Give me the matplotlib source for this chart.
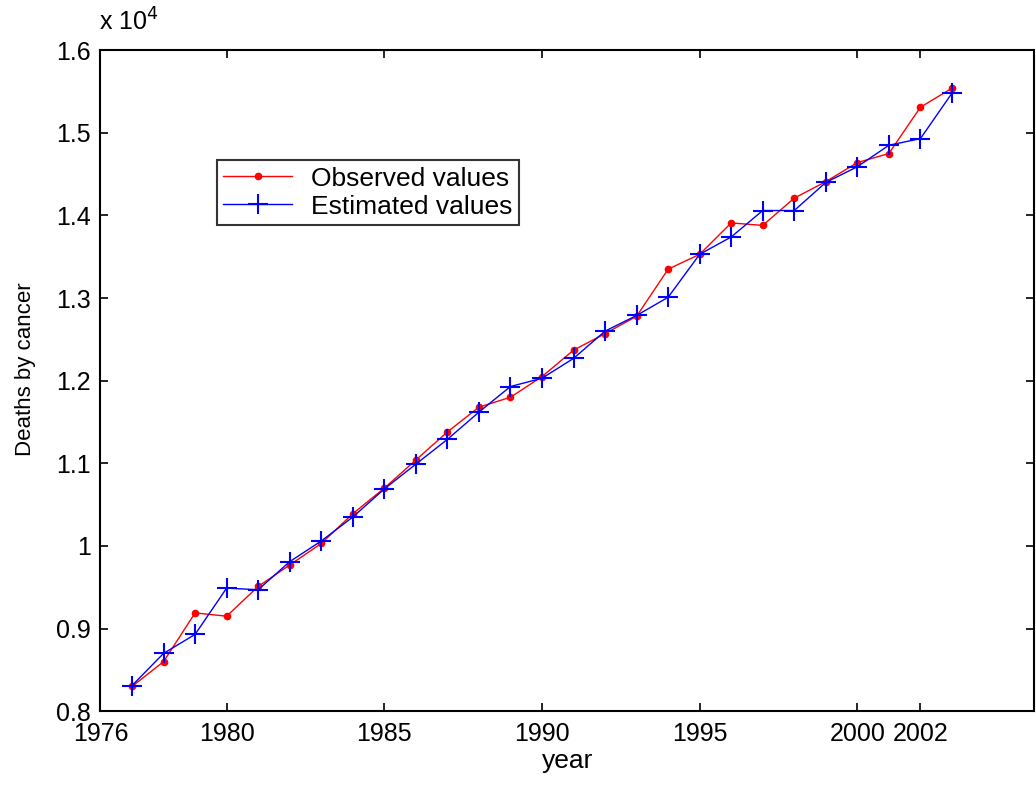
import matplotlib
matplotlib.use('Agg')
import matplotlib.pyplot as plt
from matplotlib.ticker import FuncFormatter

plt.rcParams['font.family'] = ['Liberation Sans', 'DejaVu Sans']

years = list(range(1977, 2004))

# deaths by cancer, observed vs model estimate
observed = [8300, 8600, 9190, 9150, 9510, 9770, 10030, 10390, 10700,
            11040, 11380, 11680, 11800, 12050, 12370, 12570, 12780,
            13350, 13530, 13910, 13880, 14210, 14410, 14640, 14750,
            15310, 15540]
estimated = [8310, 8700, 8930, 9490, 9470, 9810, 10060, 10350, 10690,
             10990, 11290, 11620, 11930, 12030, 12270, 12600, 12790,
             13010, 13530, 13740, 14060, 14060, 14400, 14590, 14850,
             14930, 15480]

xticks = [1976, 1980, 1985, 1990, 1995, 2000, 2002]
yticks = [8000, 9000, 10000, 11000, 12000, 13000, 14000, 15000, 16000]

fig = plt.figure(figsize=(10.36, 7.85), dpi=100)
ax = fig.add_axes([0.097, 0.094, 0.901, 0.842])

ax.plot(years, observed, color='red', marker='o', markersize=4.5,
        linewidth=1.0, label='Observed values')
ax.plot(years, estimated, color='blue', marker='+', markersize=15,
        markeredgewidth=1.5, linewidth=1.0, label='Estimated values')

ax.set_xlim(1976, 2005.6)
ax.set_ylim(8000, 16000)
ax.set_xticks(xticks)
ax.set_yticks(yticks)
ax.yaxis.set_major_formatter(FuncFormatter(lambda v, p: '%g' % (v / 1e4)))

ax.tick_params(direction='in', top=True, right=True, length=6, width=1.2,
               labelsize=18)
ax.tick_params(axis='x', pad=8)
ax.tick_params(axis='y', pad=7)
for s in ax.spines.values():
    s.set_linewidth(1.5)

ax.set_xlabel('year', fontsize=19, labelpad=2)
ax.set_ylabel('Deaths by cancer', fontsize=16)
ax.yaxis.set_label_coords(-0.069, 0.517)
fig.text(0.096, 0.955, 'x 10$^4$', fontsize=18, ha='left', va='bottom')

leg = ax.legend(loc='upper left', bbox_to_anchor=(0.1247, 0.834), fontsize=19,
                frameon=True, fancybox=False, edgecolor='black',
                borderaxespad=0, handlelength=2.6, borderpad=0.25,
                labelspacing=0.15, handletextpad=0.7)
leg.get_frame().set_linewidth(1.5)

fig.savefig('out.png', dpi=100)
